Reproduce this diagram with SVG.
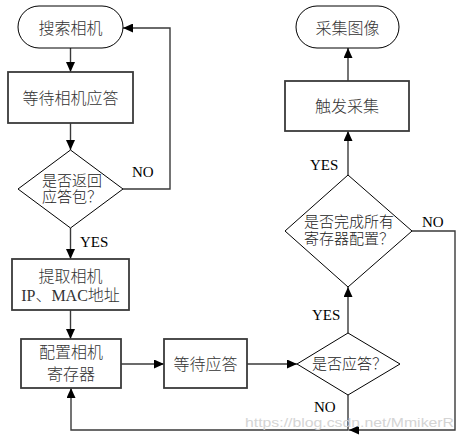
<svg xmlns="http://www.w3.org/2000/svg" width="464" height="440" viewBox="0 0 464 440">
<defs>
<marker id="arr" markerUnits="userSpaceOnUse" markerWidth="11" markerHeight="9" refX="10" refY="4.5" orient="auto">
<path d="M0,0 L10,4.5 L0,9 z" fill="#000"/>
</marker>
<style>
.term{fill:#fff;stroke:#000;stroke-width:1}
.box{fill:#fff;stroke:#3a3a3a;stroke-width:1.8}
.dia{fill:#fff;stroke:#000;stroke-width:1}
.conn{fill:none;stroke:#3a3a3a;stroke-width:1.4}
.cjk{font-family:"Liberation Serif","Noto Sans CJK SC",serif;font-size:16px;font-weight:300;fill:#333}
.cjk14{font-family:"Liberation Serif","Noto Sans CJK SC",serif;font-size:15px;font-weight:300;fill:#222}
.lat{font-family:"Liberation Serif",serif;font-size:15px;fill:#000}
.wm{font-family:"Liberation Sans",sans-serif;font-size:13px;fill:#d4d4d4}
</style>
</defs>
<rect width="464" height="440" fill="#fff"/>
<g id="connectors">
<path class="conn" d="M70.5,48 V72" marker-end="url(#arr)"/>
<path class="conn" d="M70.5,123 V150" marker-end="url(#arr)"/>
<path class="conn" d="M123,189 H170 V28 H123" marker-end="url(#arr)"/>
<path class="conn" d="M70.5,228 V259" marker-end="url(#arr)"/>
<path class="conn" d="M70.5,310 V339" marker-end="url(#arr)"/>
<path class="conn" d="M121,364 H164" marker-end="url(#arr)"/>
<path class="conn" d="M247,364 H297" marker-end="url(#arr)"/>
<path class="conn" d="M348,333 V287" marker-end="url(#arr)"/>
<path class="conn" d="M412,231 H455 V430 H349" marker-end="url(#arr)"/>
<path class="conn" d="M348,395 V430 H71 V388" marker-end="url(#arr)"/>
<path class="conn" d="M348,175 V131" marker-end="url(#arr)"/>
<path class="conn" d="M348,81 V48" marker-end="url(#arr)"/>
<text class="lat" x="132" y="177">NO</text>
<text class="lat" x="80" y="247">YES</text>
<text class="lat" x="310" y="170">YES</text>
<text class="lat" x="312" y="320">YES</text>
<text class="lat" x="314" y="412">NO</text>
<text class="lat" x="422" y="227">NO</text>
</g>
<g id="start">
<rect class="term" x="18" y="6" width="105" height="42" rx="21"/>
<text class="cjk" x="70.5" y="34" text-anchor="middle">搜索相机</text>
</g>
<g id="wait-camera">
<rect class="box" x="8" y="72" width="125" height="51"/>
<text class="cjk" x="70.5" y="104" text-anchor="middle">等待相机应答</text>
</g>
<g id="reply-check">
<polygon class="dia" points="70.5,150 123,189 70.5,228 18,189"/>
<text class="cjk14" x="42" y="186">是否返回</text>
<text class="cjk14" x="42" y="202">应答包？</text>
</g>
<g id="extract">
<rect class="box" x="12" y="259" width="117" height="51"/>
<text class="cjk" x="70.5" y="282" text-anchor="middle">提取相机</text>
<text class="cjk" x="70.5" y="301" text-anchor="middle">IP、MAC地址</text>
</g>
<g id="config">
<rect class="box" x="21" y="339" width="100" height="49"/>
<text class="cjk" x="71" y="358" text-anchor="middle">配置相机</text>
<text class="cjk" x="71" y="380" text-anchor="middle">寄存器</text>
</g>
<g id="wait-reply">
<rect class="box" x="164" y="339" width="83" height="49"/>
<text class="cjk" x="205.5" y="370" text-anchor="middle">等待应答</text>
</g>
<g id="answered">
<polygon class="dia" points="348,333 400,364 348,395 297,364"/>
<text class="cjk14" x="312" y="369">是否应答？</text>
</g>
<g id="all-done">
<polygon class="dia" points="348,175 412,231 348,287 285,231"/>
<text class="cjk14" x="304" y="227">是否完成所有</text>
<text class="cjk14" x="304" y="244">寄存器配置？</text>
</g>
<g id="trigger">
<rect class="box" x="285" y="81" width="124" height="50"/>
<text class="cjk" x="347" y="112" text-anchor="middle">触发采集</text>
</g>
<g id="capture">
<rect class="term" x="296" y="6" width="103" height="42" rx="21"/>
<text class="cjk" x="347.5" y="34" text-anchor="middle">采集图像</text>
</g>
<text class="wm" x="245" y="427" textLength="209" lengthAdjust="spacingAndGlyphs">https://blog.csdn.net/MmikerR</text>
</svg>
